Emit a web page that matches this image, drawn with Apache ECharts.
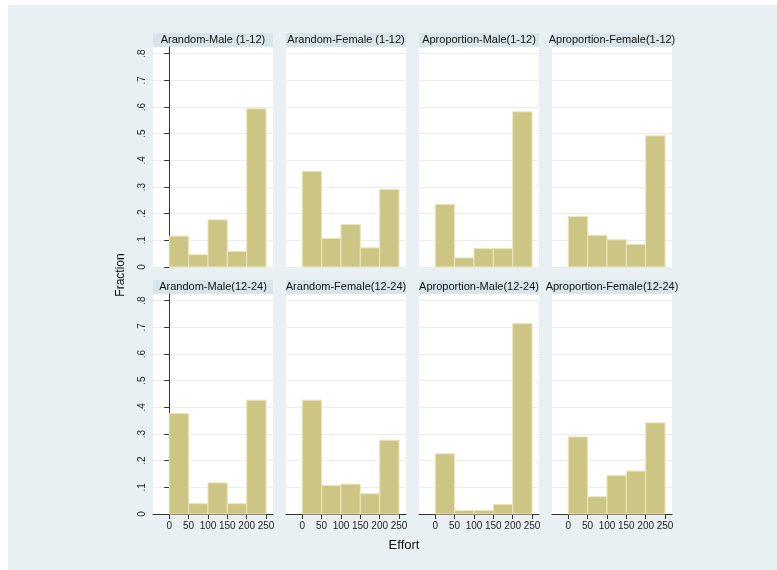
<!DOCTYPE html>
<html>
<head>
<meta charset="utf-8">
<script src="https://cdn.jsdelivr.net/npm/echarts@6/dist/echarts.min.js"></script>
<style>
  html, body { margin: 0; padding: 0; background: #ffffff; }
  #chart { width: 777px; height: 570px; }
</style>
</head>
<body>
<div id="chart"></div>
<script>
// bin edges of the histograms (Effort)
var binEdges = [0, 50, 100, 150, 200, 250]
var xTicks = [0, 50, 100, 150, 200, 250]
var yTicks = [0, 0.1, 0.2, 0.3, 0.4, 0.5, 0.6, 0.7, 0.8]

var panelTitles = [
  'Arandom-Male (1-12)', 'Arandom-Female (1-12)', 'Aproportion-Male(1-12)', 'Aproportion-Female(1-12)',
  'Arandom-Male(12-24)', 'Arandom-Female(12-24)', 'Aproportion-Male(12-24)', 'Aproportion-Female(12-24)'
]

// fraction per bin
var randomMale1 = [0.116, 0.046, 0.177, 0.059, 0.593]
var randomFemale1 = [0.359, 0.107, 0.160, 0.072, 0.291]
var propMale1 = [0.235, 0.034, 0.069, 0.069, 0.582]
var propFemale1 = [0.190, 0.119, 0.102, 0.085, 0.492]
var randomMale2 = [0.377, 0.039, 0.117, 0.039, 0.427]
var randomFemale2 = [0.427, 0.107, 0.112, 0.076, 0.277]
var propMale2 = [0.226, 0.013, 0.013, 0.036, 0.714]
var propFemale2 = [0.289, 0.065, 0.144, 0.161, 0.342]

var panelValues = [randomMale1, randomFemale1, propMale1, propFemale1,
  randomMale2, randomFemale2, propMale2, propFemale2]

var colLeft = [153, 286, 419, 552]
var rowTop = [47, 294]
var panelW = 120
var panelH = 220
var headerH = 14

var chart = echarts.init(document.getElementById('chart'))

var grids = []
var xAxes = []
var yAxes = []
var series = []
var graphics = [
  { type: 'rect', shape: { x: 8, y: 5, width: 769, height: 565 }, style: { fill: '#e8f0f3' }, z: -10 }
]

panelValues.forEach(function (vals, i) {
  var col = i % 4
  var row = Math.floor(i / 4)
  var left = colLeft[col]
  var top = rowTop[row]
  var isBottom = row === 1
  var isFirst = col === 0

  grids.push({ left: left, top: top, width: panelW, height: panelH, show: true, backgroundColor: '#ffffff', borderWidth: 0 })

  xAxes.push({
    type: 'value',
    gridIndex: i,
    min: -42,
    max: 268,
    splitLine: { show: false },
    axisLine: { show: isBottom, onZero: false, lineStyle: { color: '#333333', width: 1 } },
    axisTick: { show: isBottom, length: 5, customValues: xTicks, lineStyle: { color: '#333333' } },
    axisLabel: { show: isBottom, customValues: xTicks, color: '#222222', fontSize: 10, margin: 7, hideOverlap: false, fontFamily: 'Liberation Sans' }
  })

  yAxes.push({
    type: 'value',
    gridIndex: i,
    min: 0,
    max: 0.825,
    interval: 0.1,
    splitLine: { show: true, lineStyle: { color: '#ececec', width: 1 } },
    axisLine: { show: isFirst, lineStyle: { color: '#333333', width: 1 } },
    axisTick: { show: isFirst, length: 5, customValues: yTicks, lineStyle: { color: '#333333' } },
    axisLabel: {
      show: isFirst,
      customValues: yTicks,
      rotate: 90,
      color: '#222222',
      fontSize: 10,
      margin: 6,
      fontFamily: 'Liberation Sans',
      formatter: function (v) {
        if (v === 0) return '0'
        return '.' + Math.round(v * 10)
      }
    }
  })

  var data = vals.map(function (v, k) {
    return [binEdges[k], binEdges[k + 1], v]
  })

  series.push({
    type: 'custom',
    xAxisIndex: i,
    yAxisIndex: i,
    encode: { x: [0, 1], y: 2 },
    data: data,
    renderItem: function (params, api) {
      var p0 = api.coord([api.value(0), api.value(2)])
      var p1 = api.coord([api.value(1), 0])
      return {
        type: 'rect',
        shape: { x: p0[0], y: p0[1], width: p1[0] - p0[0], height: p1[1] - p0[1] },
        style: { fill: '#cdc584', stroke: '#ebe6bd', lineWidth: 1 }
      }
    }
  })

  // header strip with panel title
  graphics.push({
    type: 'rect',
    shape: { x: left, y: top - headerH, width: panelW, height: headerH },
    style: { fill: '#d8e5ea' }
  })
  graphics.push({
    type: 'text',
    x: left + panelW / 2,
    y: top - headerH / 2,
    style: {
      text: panelTitles[i],
      fill: '#111111',
      font: '11px "Liberation Sans", Arial, sans-serif',
      align: 'center',
      verticalAlign: 'middle'
    }
  })
})

graphics.push({
  type: 'text',
  x: 121,
  y: 275,
  rotation: Math.PI / 2,
  style: {
    text: 'Fraction',
    fill: '#111111',
    font: '12px "Liberation Sans", Arial, sans-serif',
    align: 'center',
    verticalAlign: 'middle'
  }
})
graphics.push({
  type: 'text',
  x: 404,
  y: 545,
  style: {
    text: 'Effort',
    fill: '#111111',
    font: '13px "Liberation Sans", Arial, sans-serif',
    align: 'center',
    verticalAlign: 'middle'
  }
})

chart.setOption({
  animation: false,
  backgroundColor: '#ffffff',
  grid: grids,
  xAxis: xAxes,
  yAxis: yAxes,
  series: series,
  graphic: graphics
})
</script>
</body>
</html>
